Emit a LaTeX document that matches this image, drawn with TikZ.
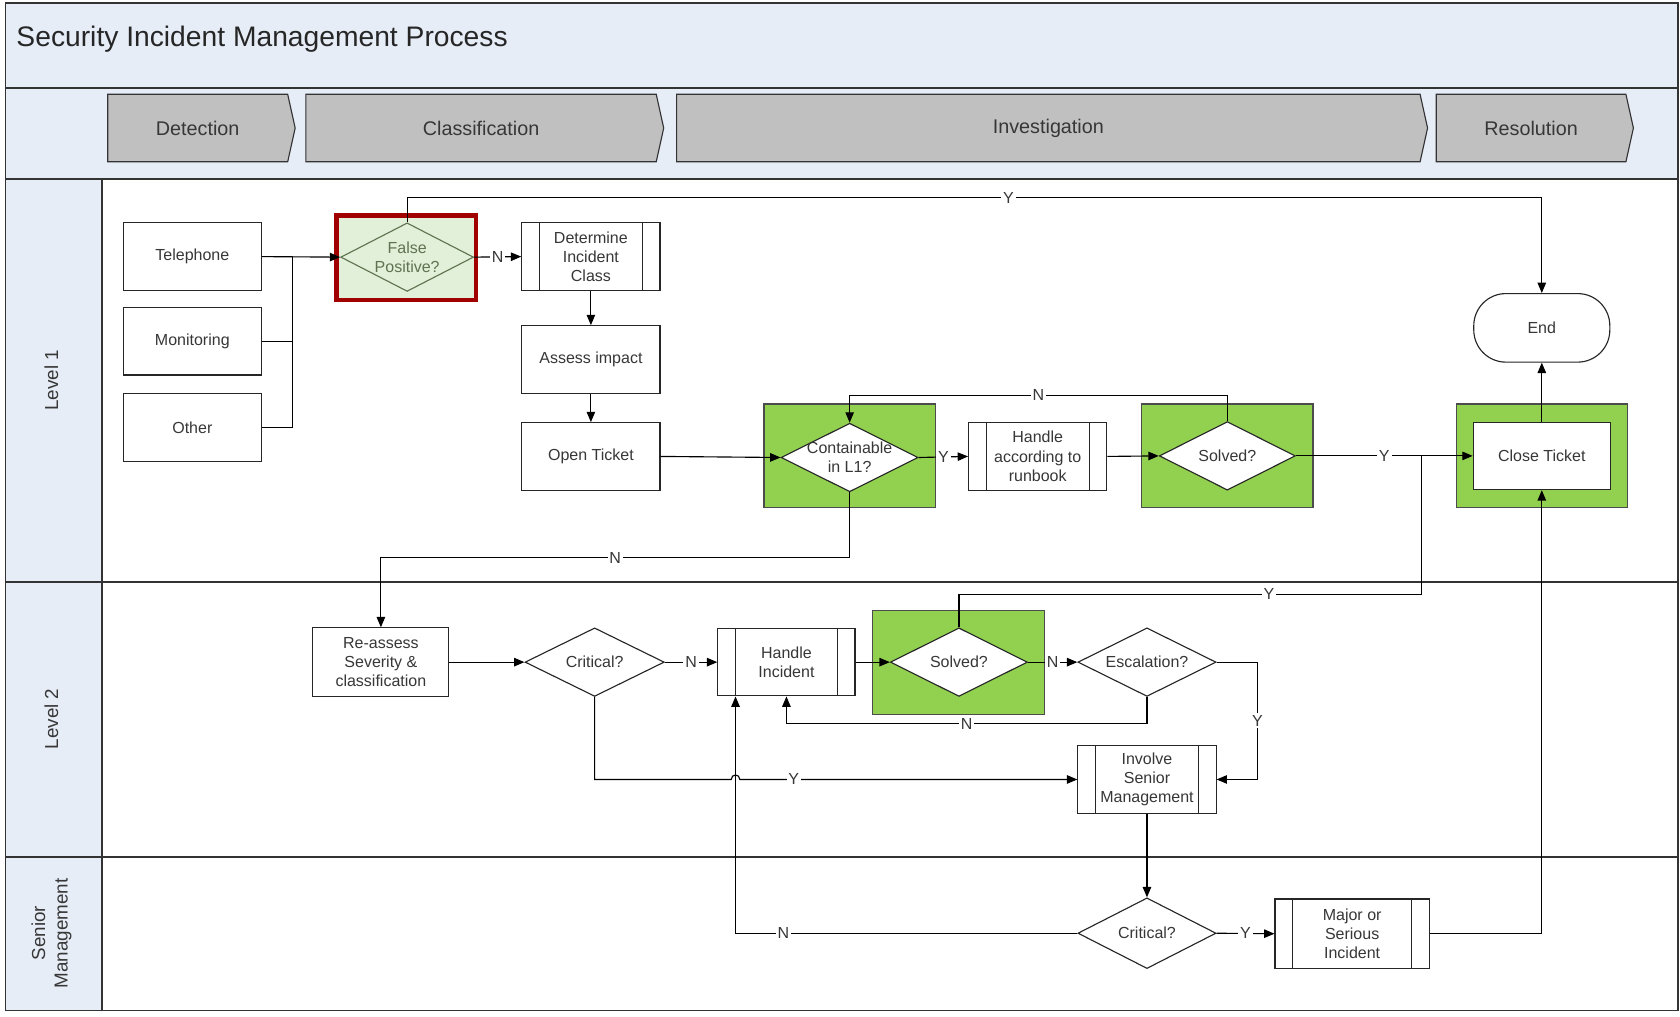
\documentclass[tikz,border=0pt]{standalone}
\usepackage{fontspec}
\setmainfont{Liberation Sans}
\usetikzlibrary{arrows.meta,shapes.geometric,shapes.symbols,calc}
\definecolor{laneblue}{RGB}{230,237,247}
\definecolor{phasegray}{RGB}{192,192,192}
\definecolor{hlgreen}{RGB}{146,208,80}
\definecolor{palegreen}{RGB}{226,239,217}
\definecolor{darkred}{RGB}{160,0,0}
\definecolor{olive}{RGB}{95,115,80}
\definecolor{ink}{RGB}{55,55,55}

\begin{document}
\begin{tikzpicture}[x=0.02cm, y=-0.02cm, line width=0.6pt,
    every node/.style={font=\fontsize{8.5}{10.2}\selectfont, text=ink},
    box/.style={draw=black!85, fill=white, align=center, minimum width=2.58cm, minimum height=1.26cm, inner sep=2pt},
    subbox/.style={box, path picture={
        \draw[black!85] ([xshift=0.33cm]path picture bounding box.north west) -- ([xshift=0.33cm]path picture bounding box.south west);
        \draw[black!85] ([xshift=-0.33cm]path picture bounding box.north east) -- ([xshift=-0.33cm]path picture bounding box.south east);}},
    decision/.style={diamond, aspect=2, draw=black!85, fill=white, align=center, minimum width=2.56cm, minimum height=1.28cm, inner sep=-3pt},
    greenbox/.style={draw=black!70, fill=hlgreen, minimum width=3.2cm, minimum height=1.94cm},
    terminal/.style={draw=black!85, fill=white, rounded corners=0.6cm, minimum width=2.54cm, minimum height=1.28cm},
    phase/.style={signal, signal to=east, signal pointer angle=155, draw=black!80, fill=phasegray, anchor=west, minimum height=1.26cm, font=\fontsize{10.5}{12}\selectfont},
    lane/.style={rotate=90, align=center, font=\fontsize{10}{12}\selectfont},
    lbl/.style={fill=white, inner sep=1pt},
    arr/.style={-{Triangle[length=5.5pt,width=4.5pt]}}]

    \useasboundingbox (0,0) rectangle (1568,949);

    % swimlane frame
    \fill[laneblue] (5,3) rectangle (1566,167);
    \fill[laneblue] (5,167) rectangle (95,943);
    \draw[black!80, line width=0.9pt] (5,82) -- (1566,82);
    \draw[black!80, line width=0.9pt] (5,167) -- (1566,167);
    \draw[black!80, line width=0.9pt] (5,543) -- (1566,543);
    \draw[black!80, line width=0.9pt] (5,800) -- (1566,800);
    \draw[black!80, line width=0.9pt] (95,167) -- (95,943);
    \draw[black!80, line width=0.9pt] (5,3) rectangle (1566,943);

    \node[anchor=west, font=\fontsize{15}{18}\selectfont, text=black!85] (title) at (9,37) {Security Incident Management Process};

    \node[phase, minimum width=3.5cm] (detection) at (100,119.5) {Detection};
    \node[phase, minimum width=6.68cm] (classification) at (285,119.5) {Classification};
    \node[phase, minimum width=14.02cm] (investigation) at (631,119.5) {Investigation};
    \node[phase, minimum width=3.68cm] (resolution) at (1340,119.5) {Resolution};

    \node[lane] (levelone) at (48,355) {Level 1};
    \node[lane] (leveltwo) at (48,671) {Level 2};
    \node[lane] (senior) at (48,871) {Senior\\Management};

    % level 1
    \node[box] (tel) at (179.5,239.5) {Telephone};
    \node[box] (mon) at (179.5,318.5) {Monitoring};
    \node[box] (oth) at (179.5,399) {Other};
    \node[draw=darkred, line width=2.3pt, fill=palegreen, minimum width=2.6cm, minimum height=1.58cm] (fpbox) at (379,240.5) {};
    \node[decision, draw=olive, fill=palegreen, text=olive, minimum width=2.48cm] (fp) at (380,240) {False\\Positive?};
    \node[subbox] (det) at (551.5,239.5) {Determine\\Incident\\Class};
    \node[box] (assess) at (551.5,335.5) {Assess impact};
    \node[box] (open) at (551.5,426) {Open Ticket};
    \node[greenbox] (contbox) at (793,425.5) {};
    \node[decision] (cont) at (793,427) {Containable\\in L1?};
    \node[subbox] (runbook) at (968.5,426) {Handle\\according to\\runbook};
    \node[greenbox] (solvedbox) at (1145.5,425.5) {};
    \node[decision, minimum width=2.54cm] (solved) at (1145.5,425.5) {Solved?};
    \node[greenbox] (closebox) at (1439,425.5) {};
    \node[box, minimum width=2.56cm] (close) at (1439,425.5) {Close Ticket};
    \node[terminal] (end) at (1439,306) {End};

    % level 2
    \node[box, minimum width=2.54cm, minimum height=1.28cm] (reassess) at (355.5,618) {Re-assess\\Severity \&\\classification};
    \node[decision, minimum width=2.6cm] (crit) at (555,618) {Critical?};
    \node[subbox, minimum width=2.56cm] (handle) at (734,618) {Handle\\Incident};
    \node[greenbox] (solvedtwobox) at (894.5,618.5) {};
    \node[decision] (solvedtwo) at (895,618) {Solved?};
    \node[decision, minimum width=2.58cm] (esc) at (1070.5,618) {Escalation?};
    \node[subbox] (involve) at (1070.5,727.5) {Involve\\Senior\\Management};

    % senior management
    \node[decision, minimum width=2.58cm, minimum height=1.32cm] (critsm) at (1070.5,871) {Critical?};
    \node[subbox, minimum width=2.88cm, minimum height=1.3cm] (major) at (1262,871.5) {Major or\\Serious\\Incident};

    \coordinate (bus) at (273,239.5);
    \coordinate (jn) at (1327,425.5);
    \coordinate (hin) at ([xshift=0.34cm]handle.south west);

    \draw (mon.east) -| (bus);
    \draw (oth.east) -| (bus);
    \draw[arr] (tel.east) -- (fp.west);
    \draw[arr] (fp.east) -- node[lbl] {N} (det.west);
    \draw[arr] (fp.north) -- ++(0,-23) -| node[lbl, pos=0.265] {Y} (end.north);
    \draw[arr] (det.south) -- (assess.north);
    \draw[arr] (assess.south) -- (open.north);
    \draw[arr] (open.east) -- (cont.west);
    \draw[arr] (cont.east) -- node[lbl] {Y} (runbook.west);
    \draw[arr] (runbook.east) -- (solved.west);
    \draw[arr] (solved.north) -- ++(0,-24) -| node[lbl, pos=0.25] {N} (cont.north);
    \draw[arr] (solved.east) -- node[lbl] {Y} (close.west);
    \draw[arr] (close.north) -- (end.south);
    \draw[arr] (cont.south) -- ++(0,61) -| node[lbl, pos=0.25] {N} (reassess.north);

    \draw[arr] (reassess.east) -- (crit.west);
    \draw[arr] (crit.east) -- node[lbl] {N} (handle.west);
    \draw[arr] (handle.east) -- (solvedtwo.west);
    \draw[arr] (solvedtwo.east) -- node[lbl] {N} (esc.west);
    \draw (solvedtwo.north) -- ++(0,-31) -| node[lbl, pos=0.335] {Y} (jn);
    \draw[arr] (esc.south) -- ++(0,25) -| node[lbl, pos=0.25] {N} (handle.south);
    \draw[arr] (esc.east) -- ++(38,0) |- node[lbl, pos=0.25] {Y} (involve.east);
    \draw[arr] (crit.south) |- ($(hin |- involve.west)+(-4,0)$) .. controls +(0,-5.5) and +(0,-5.5) .. ++(8,0) -- node[lbl, pos=0.16] {Y} (involve.west);
    \draw[arr] (involve.south) -- (critsm.north);

    \draw[arr] (critsm.east) -- node[lbl] {Y} (major.west);
    \draw[arr] (critsm.west) -| node[lbl, pos=0.43] {N} (hin);
    \draw[arr] (major.east) -| (close.south);
\end{tikzpicture}
\end{document}
